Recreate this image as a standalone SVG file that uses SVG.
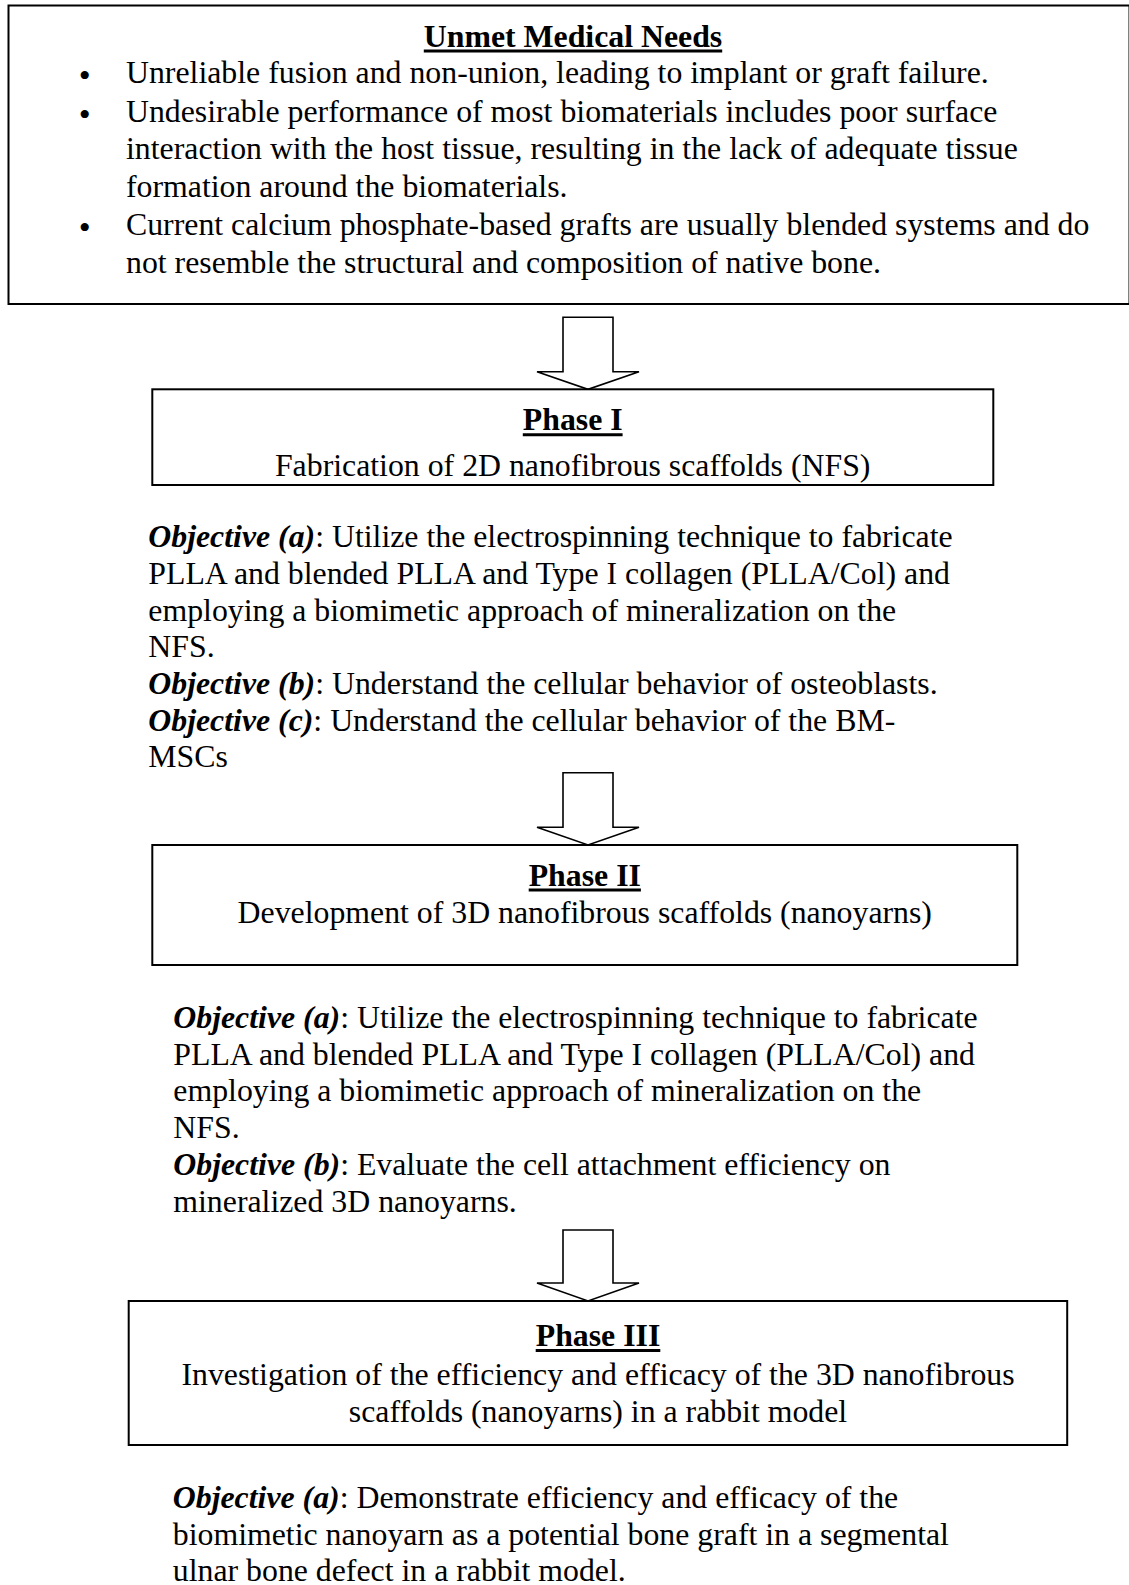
<svg xmlns="http://www.w3.org/2000/svg" width="1129" height="1585" viewBox="0 0 1129 1585">
<style>
.t{font-family:"Liberation Serif","Times New Roman",serif;font-size:31.8px;fill:#000}
.b{font-weight:bold}
.bi{font-weight:bold;font-style:italic}
.c{text-anchor:middle}
.box{fill:#fff;stroke:#000;stroke-width:2}
.arr{fill:#fff;stroke:#000;stroke-width:1.6;stroke-linejoin:miter}
.ul{stroke:#000;stroke-width:3}
.bul{font-family:"Liberation Serif","Times New Roman",serif;font-size:34px;text-anchor:middle}
</style>
<rect width="1129" height="1585" fill="#fff"/>
<g id="connectors">
<path class="arr" d="M563,317.3 H613 V371.7 H639 L588,389.3 L537,371.7 H563 Z"/>
<path class="arr" d="M563,772.7 H613 V827.3 H639 L588,845 L537,827.3 H563 Z"/>
<path class="arr" d="M563,1230 H613 V1283 H639 L588,1301 L537,1283 H563 Z"/>
</g>
<g id="unmet-needs">
<rect class="box" x="8.5" y="5.5" width="1121" height="298.5" stroke-width="2.5"/>
<text class="t b c" x="573" y="47">Unmet Medical Needs</text>
<line class="ul" x1="423.8" y1="51" x2="722.2" y2="51"/>
<text class="bul" x="84.7" y="87.1">•</text>
<text class="bul" x="84.7" y="125.5">•</text>
<text class="bul" x="84.7" y="238.8">•</text>
<text class="t" x="126" y="83.3">Unreliable fusion and non-union, leading to implant or graft failure.</text>
<text class="t" x="126" y="121.7">Undesirable performance of most biomaterials includes poor surface</text>
<text class="t" x="126" y="159.3">interaction with the host tissue, resulting in the lack of adequate tissue</text>
<text class="t" x="126" y="196.7">formation around the biomaterials.</text>
<text class="t" x="126" y="235">Current calcium phosphate-based grafts are usually blended systems and do</text>
<text class="t" x="126" y="273.3">not resemble the structural and composition of native bone.</text>
</g>
<g id="phase1">
<rect class="box" x="152.3" y="389.3" width="841" height="95.7"/>
<text class="t b c" x="572.7" y="430">Phase I</text>
<line class="ul" x1="522.8" y1="434.7" x2="622.6" y2="434.7"/>
<text class="t c" x="572.7" y="475.5">Fabrication of 2D nanofibrous scaffolds (NFS)</text>
</g>
<g id="phase1-objectives">
<text class="t" x="148.3" y="547.3"><tspan class="bi">Objective (a)</tspan>: Utilize the electrospinning technique to fabricate</text>
<text class="t" x="148.3" y="584">PLLA and blended PLLA and Type I collagen (PLLA/Col) and</text>
<text class="t" x="148.3" y="620.7">employing a biomimetic approach of mineralization on the</text>
<text class="t" x="148.3" y="657.4">NFS.</text>
<text class="t" x="148.3" y="694"><tspan class="bi">Objective (b)</tspan>: Understand the cellular behavior of osteoblasts.</text>
<text class="t" x="148.3" y="730.7"><tspan class="bi">Objective (c)</tspan>: Understand the cellular behavior of the BM-</text>
<text class="t" x="148.3" y="767.3">MSCs</text>
</g>
<g id="phase2">
<rect class="box" x="152.3" y="845" width="865" height="120"/>
<text class="t b c" x="584.8" y="886">Phase II</text>
<line class="ul" x1="528.7" y1="890" x2="640.9" y2="890"/>
<text class="t c" x="584.8" y="923.3">Development of 3D nanofibrous scaffolds (nanoyarns)</text>
</g>
<g id="phase2-objectives">
<text class="t" x="173.3" y="1028"><tspan class="bi">Objective (a)</tspan>: Utilize the electrospinning technique to fabricate</text>
<text class="t" x="173.3" y="1064.7">PLLA and blended PLLA and Type I collagen (PLLA/Col) and</text>
<text class="t" x="173.3" y="1101.4">employing a biomimetic approach of mineralization on the</text>
<text class="t" x="173.3" y="1138">NFS.</text>
<text class="t" x="173.3" y="1174.8"><tspan class="bi">Objective (b)</tspan>: Evaluate the cell attachment efficiency on</text>
<text class="t" x="173.3" y="1211.5">mineralized 3D nanoyarns.</text>
</g>
<g id="phase3">
<rect class="box" x="128.7" y="1301" width="938.5" height="144"/>
<text class="t b c" x="598" y="1346">Phase III</text>
<line class="ul" x1="535.7" y1="1350.5" x2="660.3" y2="1350.5"/>
<text class="t c" x="598" y="1385">Investigation of the efficiency and efficacy of the 3D nanofibrous</text>
<text class="t c" x="598" y="1422">scaffolds (nanoyarns) in a rabbit model</text>
</g>
<g id="phase3-objectives">
<text class="t" x="172.8" y="1508"><tspan class="bi">Objective (a)</tspan>: Demonstrate efficiency and efficacy of the</text>
<text class="t" x="172.8" y="1545">biomimetic nanoyarn as a potential bone graft in a segmental</text>
<text class="t" x="172.8" y="1581">ulnar bone defect in a rabbit model.</text>
</g>
</svg>
